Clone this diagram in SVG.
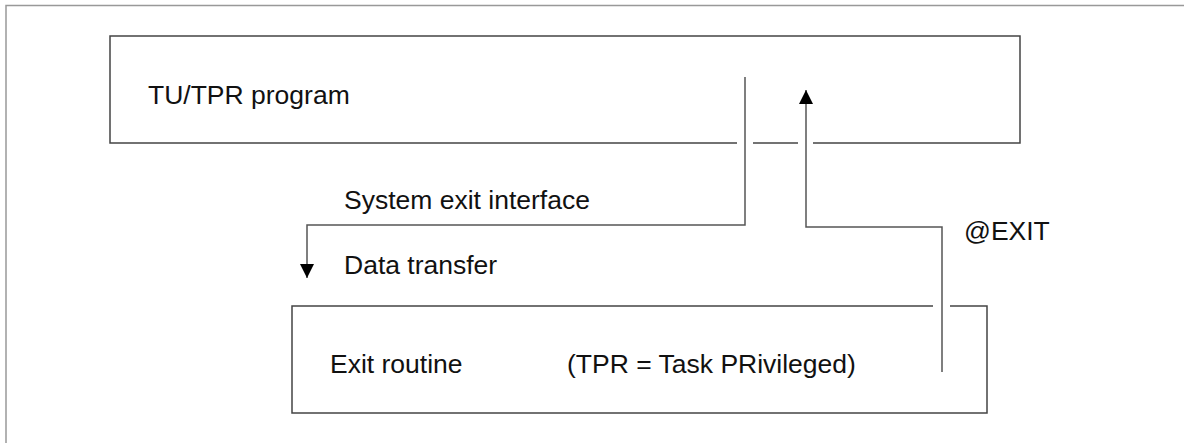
<svg xmlns="http://www.w3.org/2000/svg" width="1184" height="443" viewBox="0 0 1184 443">
<defs>
<marker id="arr" markerWidth="14" markerHeight="14" refX="14" refY="7" orient="auto" markerUnits="userSpaceOnUse" viewBox="0 0 14 14">
<path d="M0,0 L14,7 L0,14 Z" fill="#000"/>
</marker>
<style>
.box{fill:none;stroke:#444;stroke-width:1.5}
.conn{fill:none;stroke:#555;stroke-width:1.5}
.frame{fill:none;stroke:#999;stroke-width:1.5}
text{font-family:"Liberation Sans",Arial,sans-serif;font-size:26.5px;fill:#111}
</style>
</defs>
<rect width="1184" height="443" fill="#fff"/>
<path class="frame" d="M6,443 V5.5 H1184"/>
<g id="tu-tpr-program">
<path class="box" d="M737,143 H110 V36 H1020 V143 H813"/>
<path class="box" d="M753,143 H798"/>
<text x="148" y="104">TU/TPR program</text>
</g>
<g id="exit-routine">
<path class="box" d="M933,306 H292 V413 H987 V306 H950"/>
<text x="330" y="373">Exit routine</text>
<text x="567" y="373">(TPR = Task PRivileged)</text>
</g>
<g id="connectors">
<path class="conn" d="M745,77 V225 H307 V278" marker-end="url(#arr)"/>
<path class="conn" d="M942,372 V227 H806 V90" marker-end="url(#arr)"/>
<text x="344" y="209">System exit interface</text>
<text x="344" y="274">Data transfer</text>
<text x="964" y="240">@EXIT</text>
</g>
</svg>
